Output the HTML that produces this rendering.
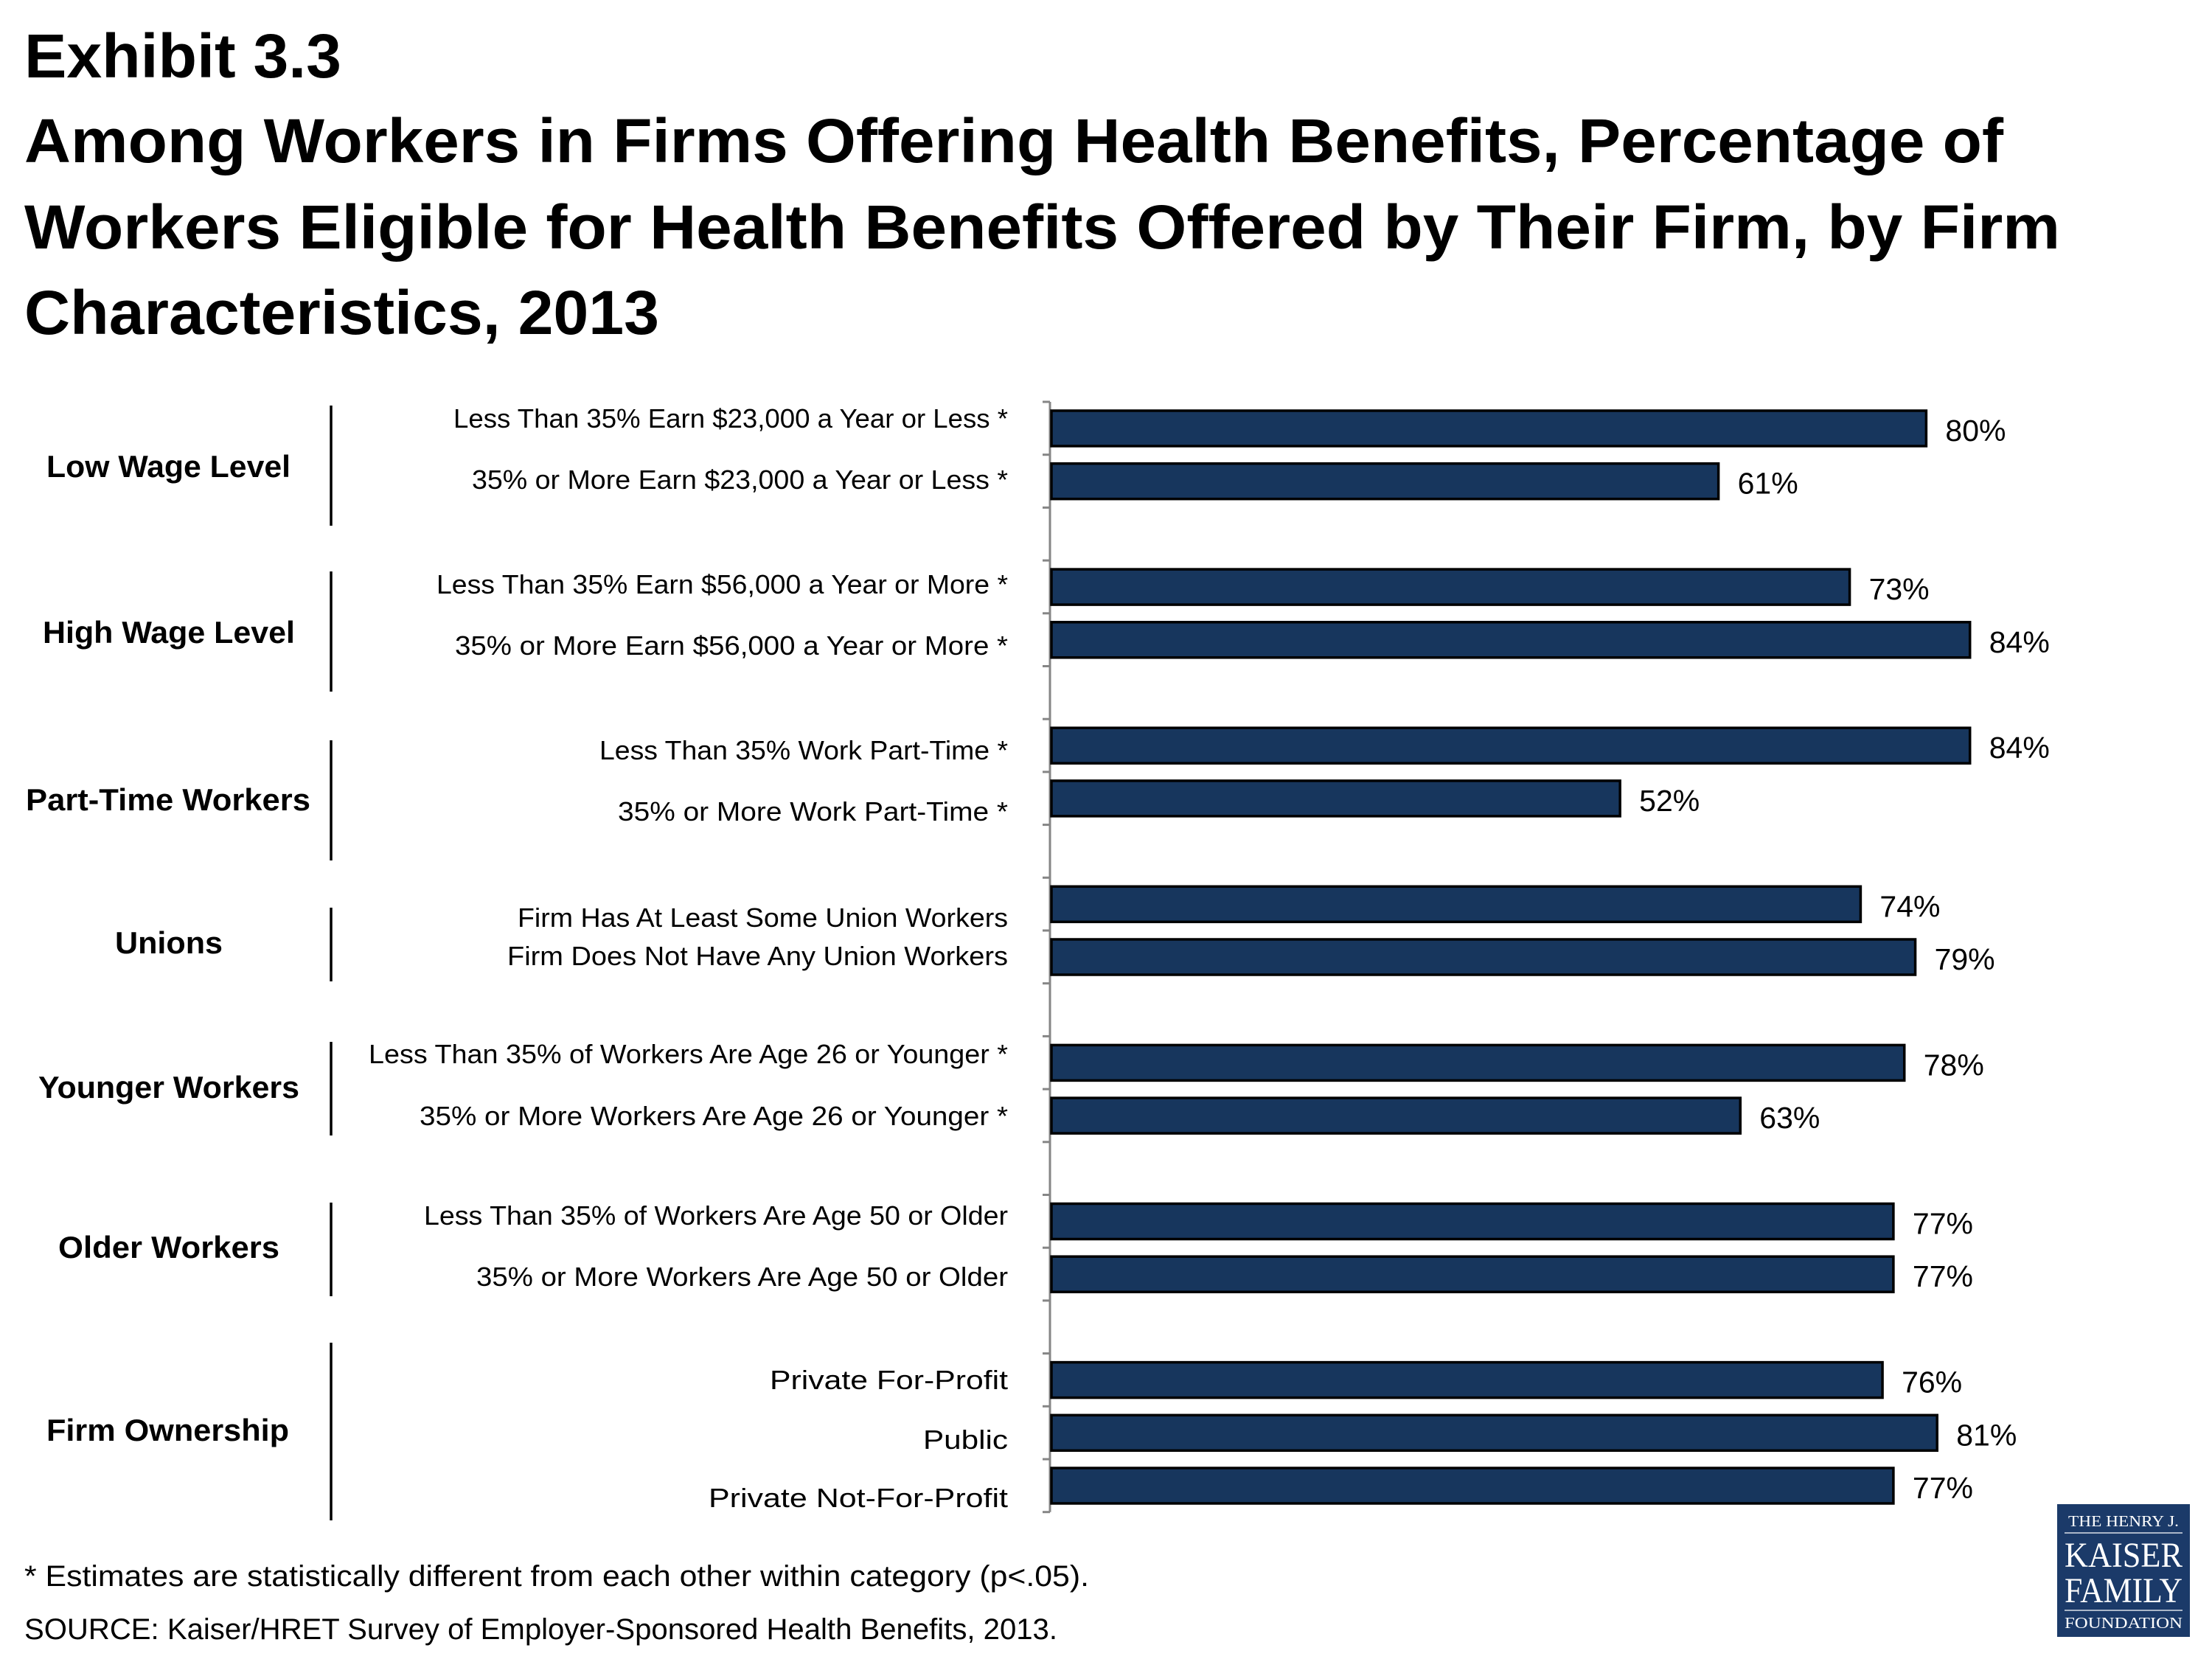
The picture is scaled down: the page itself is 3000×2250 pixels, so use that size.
<!DOCTYPE html>
<html><head><meta charset="utf-8"><style>
html,body{margin:0;padding:0;background:#fff;}
svg{display:block;font-family:"Liberation Sans",sans-serif;}
</style></head><body>
<svg id="chart" width="3000" height="2250" viewBox="0 0 3000 2250">
<g font-weight="bold" fill="#000">
<text x="33" y="105" font-size="84" textLength="430" lengthAdjust="spacingAndGlyphs">Exhibit 3.3</text>
<text x="33" y="220" font-size="84" textLength="2684" lengthAdjust="spacingAndGlyphs">Among Workers in Firms Offering Health Benefits, Percentage of</text>
<text x="33" y="337" font-size="84" textLength="2761" lengthAdjust="spacingAndGlyphs">Workers Eligible for Health Benefits Offered by Their Firm, by Firm</text>
<text x="33" y="453" font-size="84" textLength="861" lengthAdjust="spacingAndGlyphs">Characteristics, 2013</text>
</g>
<g id="groups"></g>
<g id="plot"></g>
<g font-size="40" fill="#000">
<text x="33" y="2151" textLength="1444" lengthAdjust="spacingAndGlyphs">* Estimates are statistically different from each other within category (p&lt;.05).</text>
<text x="33" y="2223" textLength="1401" lengthAdjust="spacingAndGlyphs">SOURCE: Kaiser/HRET Survey of Employer-Sponsored Health Benefits, 2013.</text>
</g>
<g font-family="Liberation Serif, serif" fill="#fff" text-anchor="middle">
<rect x="2790" y="2040" width="180" height="180" fill="#1b3a69"/>
<text x="2880" y="2070" font-size="21" textLength="150" lengthAdjust="spacingAndGlyphs">THE HENRY J.</text>
<rect x="2800" y="2078" width="160" height="2" fill="#aab6c8"/>
<text x="2880" y="2125" font-size="48" textLength="160" lengthAdjust="spacingAndGlyphs">KAISER</text>
<text x="2880" y="2173" font-size="48" textLength="160" lengthAdjust="spacingAndGlyphs">FAMILY</text>
<rect x="2800" y="2183" width="160" height="2" fill="#aab6c8"/>
<text x="2880" y="2208" font-size="21" textLength="160" lengthAdjust="spacingAndGlyphs">FOUNDATION</text>
</g>
</svg>
<script>
const categories = [
 "Less Than 35% Earn $23,000 a Year or Less *",
 "35% or More Earn $23,000 a Year or Less *",
 "Less Than 35% Earn $56,000 a Year or More *",
 "35% or More Earn $56,000 a Year or More *",
 "Less Than 35% Work Part-Time *",
 "35% or More Work Part-Time *",
 "Firm Has At Least Some Union Workers",
 "Firm Does Not Have Any Union Workers",
 "Less Than 35% of Workers Are Age 26 or Younger *",
 "35% or More Workers Are Age 26 or Younger *",
 "Less Than 35% of Workers Are Age 50 or Older",
 "35% or More Workers Are Age 50 or Older",
 "Private For-Profit",
 "Public",
 "Private Not-For-Profit"
];
const values = [80,61,73,84,84,52,74,79,78,63,77,77,76,81,77];
const valueLabels = ["80%","61%","73%","84%","84%","52%","74%","79%","78%","63%","77%","77%","76%","81%","77%"];
const slots = [0,1,3,4,6,7,9,10,12,13,15,16,18,19,20];
const groupNames = ["Low Wage Level","High Wage Level","Part-Time Workers","Unions","Younger Workers","Older Workers","Firm Ownership"];

const NS = "http://www.w3.org/2000/svg";
const axisX = 1426, pxPerPct = 14.83, axisTop = 545, slotH = 71.7, nSlots = 21;
const xScale = v => axisX + v * pxPerPct;
const slotTop = s => axisTop + s * slotH;
const labelCY = [568,651,793,876,1018,1101,1245,1297,1430,1514,1649,1732,1872,1953,2032];
const labelStart = [615,640,592,617,813,838,702,688,500,569,575,646,1044,1252,961];
const labelEnd = 1367;
const groupCY = [632,857,1084,1278,1474,1691,1939];
const groupX = [[63,394],[58,400],[35,421],[156,302],[52,406],[79,379],[63,392]];
const groupLine = [[550,713],[775,938],[1004,1167],[1231,1331],[1413,1540],[1631,1758],[1821,2062]];
function mk(tag, attrs, parent){const e=document.createElementNS(NS,tag);for(const k in attrs)e.setAttribute(k,attrs[k]);parent.appendChild(e);return e;}
const plot = document.getElementById('plot');
const groups = document.getElementById('groups');
const ax = mk('line',{x1:axisX-2,x2:axisX-2,y1:axisTop,y2:slotTop(nSlots),stroke:'#868686','stroke-width':3},plot);


for(let s=0;s<=nSlots;s++){
 const t = mk('line',{x1:axisX-12,x2:axisX-2,y1:slotTop(s),y2:slotTop(s),stroke:'#868686','stroke-width':3},plot);
 
 
}
values.forEach((v,i)=>{
 const top = slotTop(slots[i]) + 12;
 const r = mk('rect',{x:axisX,y:top,width:xScale(v)-axisX,height:48,fill:'#17365d',stroke:'#000','stroke-width':3.5},plot);
 
 
 const vl = mk('text',{x:xScale(v)+26,y:top+24+17,'font-size':41,fill:'#000'},plot);
 vl.textContent = valueLabels[i];
 
 
 const cl = mk('text',{x:labelEnd,y:labelCY[i]+12,'font-size':36,fill:'#000','text-anchor':'end',textLength:labelEnd-labelStart[i],lengthAdjust:'spacingAndGlyphs'},plot);
 cl.textContent = categories[i];
 
 
});
groupNames.forEach((g,i)=>{
 const t = mk('text',{x:groupX[i][0],y:groupCY[i]+15,'font-size':42,'font-weight':'bold',fill:'#000',textLength:groupX[i][1]-groupX[i][0],lengthAdjust:'spacingAndGlyphs'},groups);
 t.textContent = g;
 
 
 const l = mk('line',{x1:449,x2:449,y1:groupLine[i][0],y2:groupLine[i][1],stroke:'#000','stroke-width':3.5},groups);
 
 
});
</script>
</body></html>
